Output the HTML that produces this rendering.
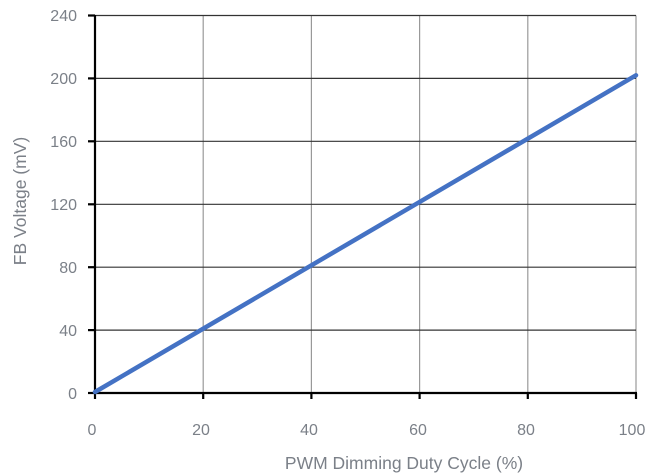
<!DOCTYPE html>
<html><head><meta charset="utf-8"><style>
html,body{margin:0;padding:0;background:#fff;}
svg{display:block;}
text{font-family:"Liberation Sans","DejaVu Sans",sans-serif;fill:#7b8088;font-size:16px;}
.t{font-size:17.5px;}
</style></head><body>
<svg width="652" height="476" viewBox="0 0 652 476" xmlns="http://www.w3.org/2000/svg">
<g stroke="#999" stroke-width="1.2">
<line x1="203.2" y1="15.5" x2="203.2" y2="393"/>
<line x1="311.4" y1="15.5" x2="311.4" y2="393"/>
<line x1="419.6" y1="15.5" x2="419.6" y2="393"/>
<line x1="527.8" y1="15.5" x2="527.8" y2="393"/>
<line x1="636" y1="15.5" x2="636" y2="393"/>
</g>
<g stroke="#333" stroke-width="1.2">
<line x1="95" y1="15.5" x2="636" y2="15.5"/>
<line x1="95" y1="78.4" x2="636" y2="78.4"/>
<line x1="95" y1="141.3" x2="636" y2="141.3"/>
<line x1="95" y1="204.3" x2="636" y2="204.3"/>
<line x1="95" y1="267.2" x2="636" y2="267.2"/>
<line x1="95" y1="330.1" x2="636" y2="330.1"/>
</g>
<g stroke="#000" stroke-width="2.2">
<line x1="95" y1="15" x2="95" y2="394"/>
<line x1="94" y1="393" x2="637" y2="393"/>
<line x1="88" y1="15.5" x2="95" y2="15.5"/>
<line x1="88" y1="78.4" x2="95" y2="78.4"/>
<line x1="88" y1="141.3" x2="95" y2="141.3"/>
<line x1="88" y1="204.3" x2="95" y2="204.3"/>
<line x1="88" y1="267.2" x2="95" y2="267.2"/>
<line x1="88" y1="330.1" x2="95" y2="330.1"/>
<line x1="88" y1="393" x2="95" y2="393"/>
<line x1="95" y1="393" x2="95" y2="399"/>
<line x1="203.2" y1="393" x2="203.2" y2="399"/>
<line x1="311.4" y1="393" x2="311.4" y2="399"/>
<line x1="419.6" y1="393" x2="419.6" y2="399"/>
<line x1="527.8" y1="393" x2="527.8" y2="399"/>
<line x1="636" y1="393" x2="636" y2="399"/>
</g>
<line x1="95" y1="392" x2="636" y2="75.3" stroke="#4472C4" stroke-width="4.5" stroke-linecap="round"/>
<g text-anchor="end">
<text x="77" y="21">240</text>
<text x="77" y="84">200</text>
<text x="77" y="147">160</text>
<text x="77" y="210">120</text>
<text x="77" y="273">80</text>
<text x="77" y="336">40</text>
<text x="77" y="399">0</text>
</g>
<g text-anchor="middle">
<text x="92" y="435">0</text>
<text x="201" y="435">20</text>
<text x="309" y="435">40</text>
<text x="418" y="435">60</text>
<text x="526" y="435">80</text>
<text x="632" y="435">100</text>
<text class="t" x="404" y="469">PWM Dimming Duty Cycle (%)</text>
<text class="t" transform="translate(26,201) rotate(-90)">FB Voltage (mV)</text>
</g>
</svg>
</body></html>
